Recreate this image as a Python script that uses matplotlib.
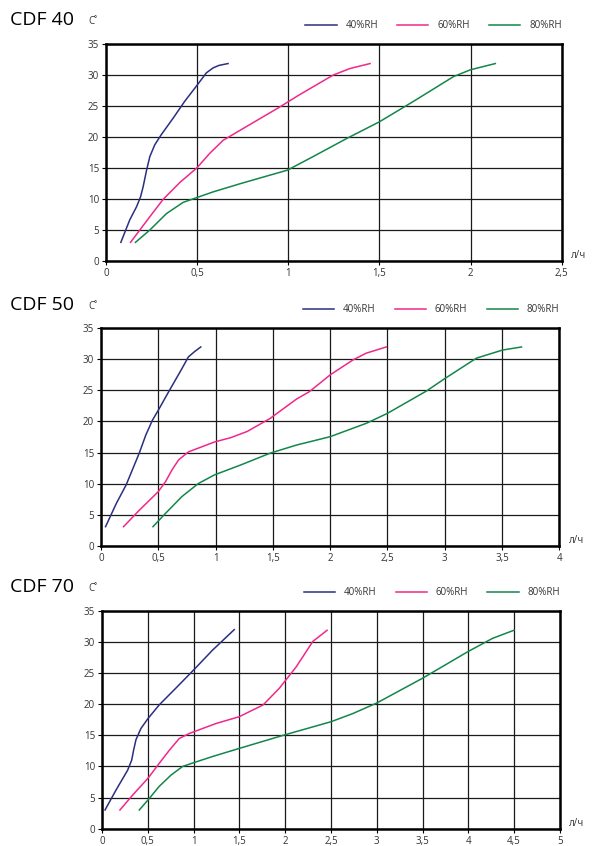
import matplotlib
matplotlib.use("Agg")
import matplotlib.pyplot as plt
from matplotlib.ticker import FuncFormatter

plt.rcParams['font.family'] = ['Open Sans', 'DejaVu Sans']

labels = ['40%RH', '60%RH', '80%RH']
colors = ['#2a2f80', '#f0288c', '#13864a']
titles = ['CDF 40', 'CDF 50', 'CDF 70']
x_max = [2.5, 4, 5]

# CDF 40
c40_x40 = [0.082, 0.131, 0.168, 0.19, 0.204, 0.223, 0.241, 0.268, 0.303, 0.369, 0.432, 0.5, 0.551, 0.588, 0.62, 0.67]
c40_y40 = [3.06, 6.7, 8.8, 10.4, 12.0, 14.7, 16.9, 18.8, 20.4, 23.1, 25.8, 28.4, 30.4, 31.2, 31.6, 31.9]
c40_x60 = [0.135, 0.186, 0.241, 0.314, 0.405, 0.5, 0.569, 0.642, 0.734, 0.954, 1.058, 1.247, 1.339, 1.449]
c40_y60 = [3.06, 5.05, 7.2, 10.0, 12.7, 15.1, 17.4, 19.5, 21.1, 24.9, 26.8, 30.05, 31.1, 31.9]
c40_x80 = [0.162, 0.241, 0.332, 0.423, 0.5, 0.588, 0.734, 0.876, 0.995, 1.137, 1.32, 1.5, 1.687, 1.907, 2.0, 2.136]
c40_y80 = [3.06, 5.05, 7.7, 9.5, 10.3, 11.2, 12.5, 13.7, 14.7, 16.9, 19.8, 22.5, 25.8, 29.8, 30.9, 31.9]

# CDF 50
c50_x40 = [0.04, 0.134, 0.22, 0.334, 0.391, 0.449, 0.5, 0.591, 0.7, 0.763, 0.82, 0.871]
c50_y40 = [3.06, 6.8, 9.8, 14.9, 17.8, 20.2, 21.8, 24.8, 28.3, 30.4, 31.3, 32.0]
c50_x60 = [0.197, 0.334, 0.5, 0.563, 0.62, 0.677, 0.763, 0.877, 0.991, 1.134, 1.277, 1.477, 1.706,
           1.819, 2.0, 2.198, 2.315, 2.49]
c50_y60 = [3.06, 5.7, 8.7, 10.3, 12.2, 13.8, 15.1, 15.9, 16.7, 17.4, 18.4, 20.5, 23.6,
           24.8, 27.5, 29.9, 31.0, 32.0]
c50_x80 = [0.454, 0.563, 0.706, 0.849, 0.991, 1.22, 1.477, 1.706, 2.0, 2.315, 2.499, 2.84, 3.0, 3.277,
           3.504, 3.67]
c50_y80 = [3.06, 5.2, 7.9, 10.0, 11.4, 13.0, 14.9, 16.2, 17.55, 19.7, 21.3, 24.9, 26.9, 30.2,
           31.5, 32.0]

# CDF 70
c70_x40 = [0.033, 0.153, 0.28, 0.324, 0.345, 0.371, 0.425, 0.502, 0.625, 0.807, 1.0, 1.207, 1.444]
c70_y40 = [3.0, 6.2, 9.4, 11.0, 12.6, 14.3, 16.1, 17.7, 19.9, 22.6, 25.5, 28.7, 32.0]
c70_x60 = [0.196, 0.335, 0.502, 0.625, 0.735, 0.844, 0.953, 1.062, 1.244, 1.498, 1.76, 1.938, 2.12,
           2.302, 2.458]
c70_y60 = [3.0, 5.4, 8.1, 10.5, 12.6, 14.5, 15.3, 15.9, 16.9, 18.0, 19.9, 22.6, 26.0,
           30.1, 31.9]
c70_x80 = [0.407, 0.502, 0.625, 0.753, 0.88, 1.0, 1.207, 1.498, 2.0, 2.502, 2.738, 3.0, 3.502, 4.0,
           4.265, 4.498]
c70_y80 = [3.0, 4.6, 6.8, 8.6, 10.0, 10.6, 11.6, 12.9, 15.1, 17.2, 18.5, 20.2, 24.2, 28.5,
           30.6, 31.9]

series = [
    [(c40_x40, c40_y40), (c40_x60, c40_y60), (c40_x80, c40_y80)],
    [(c50_x40, c50_y40), (c50_x60, c50_y60), (c50_x80, c50_y80)],
    [(c70_x40, c70_y40), (c70_x60, c70_y60), (c70_x80, c70_y80)],
]

fig = plt.figure(figsize=(5.95, 8.46), dpi=100)
boxes = [
    [0.178, 0.6911, 0.766, 0.2565],
    [0.1697, 0.355, 0.7703, 0.2569],
    [0.1714, 0.0205, 0.7696, 0.2573],
]
title_y = [0.976, 0.640, 0.306]


def fmt(v, pos):
    return ('%g' % v).replace('.', ',')


for i in range(3):
    ax = fig.add_axes(boxes[i])
    for j in range(3):
        xs, ys = series[i][j]
        ax.plot(xs, ys, color=colors[j], lw=1.1, label=labels[j])
    ax.set_xlim(0, x_max[i])
    ax.set_ylim(0, 35)
    ax.set_xticks([k * 0.5 for k in range(int(x_max[i] * 2) + 1)])
    ax.set_yticks(range(0, 36, 5))
    ax.xaxis.set_major_formatter(FuncFormatter(fmt))
    ax.grid(True, color='#1a1a1a', lw=0.9)
    ax.set_axisbelow(True)
    for sp in ax.spines.values():
        sp.set_linewidth(1.8)
        sp.set_color('black')
    ax.tick_params(labelsize=7, labelcolor='#333333', length=3, width=0.8, pad=2)
    ax.text(1.02, 0.0, 'л/ч', transform=ax.transAxes, fontsize=7,
            color='#333333', va='bottom', ha='left')
    ax.legend(loc='lower right', bbox_to_anchor=(1.0, 1.06), ncol=3, frameon=False,
              fontsize=7, handlelength=3.2, handletextpad=0.9, columnspacing=2.0,
              labelcolor='#333333', borderaxespad=0, borderpad=0)
    fig.text(0.017, title_y[i], titles[i], fontsize=14,
             family=['Liberation Sans Narrow', 'Open Sans', 'DejaVu Sans'], va='center', ha='left')
    fig.text(0.148, title_y[i] - 0.002, 'C˚', fontsize=7, color='#333333', va='center', ha='left')

fig.savefig('out.png', dpi=100)
